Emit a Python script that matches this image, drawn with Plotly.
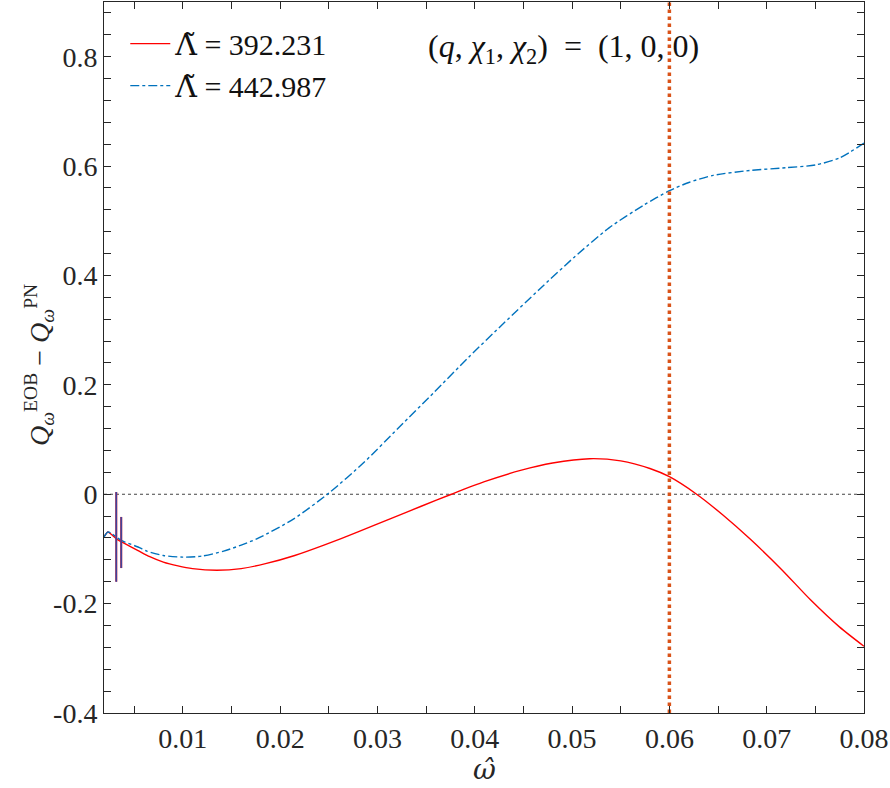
import plotly.graph_objects as go

# ---- data ----
red_x = [0.0019, 0.0023, 0.0027, 0.0033, 0.0040, 0.0054, 0.0066, 0.0080, 0.0095, 0.0110,
         0.0135, 0.0160, 0.0185, 0.0215, 0.0245, 0.0280, 0.0313, 0.0345, 0.0376, 0.0410,
         0.0448, 0.0480, 0.0518, 0.0550, 0.0580, 0.0600, 0.0628, 0.0655, 0.0683, 0.0715,
         0.0745, 0.0775, 0.0800]
red_y = [-0.078, -0.069, -0.074, -0.083, -0.090, -0.103, -0.114, -0.124, -0.131, -0.136,
         -0.139, -0.136, -0.127, -0.112, -0.093, -0.069, -0.045, -0.022, 0.000, 0.023,
         0.044, 0.057, 0.065, 0.061, 0.047, 0.032, 0.000, -0.038, -0.082, -0.137,
         -0.193, -0.243, -0.278]

blue_x = [0.0019, 0.0023, 0.0027, 0.0033, 0.0040, 0.0054, 0.0063, 0.0080, 0.0100, 0.0120,
          0.0142, 0.0160, 0.0178, 0.0214, 0.0250, 0.0286, 0.0322, 0.0358, 0.0394, 0.0430,
          0.0466, 0.0502, 0.0538, 0.0574, 0.0600, 0.0620, 0.0645, 0.0683, 0.0720, 0.0750,
          0.0775, 0.0800]
blue_y = [-0.078, -0.069, -0.072, -0.080, -0.087, -0.0965, -0.104, -0.112, -0.115, -0.113,
          -0.104, -0.093, -0.080, -0.045, 0.002, 0.058, 0.122, 0.186, 0.251, 0.313,
          0.374, 0.433, 0.487, 0.529, 0.555, 0.570, 0.583, 0.592, 0.597, 0.602,
          0.615, 0.642]

# numerical spikes at the start of both curves
spike_x = [0.00316, 0.00367]
spike_top = [0.004, -0.0415]
spike_bottom = [-0.160, -0.135]

labels = ["<span style=\"font-family:'DejaVu Serif'\">Λ\u0303</span> = 392.231",
          "<span style=\"font-family:'DejaVu Serif'\">Λ\u0303</span> = 442.987"]
omega_cut = 0.06

x_ticks = [0.01, 0.02, 0.03, 0.04, 0.05, 0.06, 0.07, 0.08]
x_ticktext = ["0.01", "0.02", "0.03", "0.04", "0.05", "0.06", "0.07", "0.08"]
y_ticks = [-0.4, -0.2, 0, 0.2, 0.4, 0.6, 0.8]
y_ticktext = ["-0.4", "-0.2", "0", "0.2", "0.4", "0.6", "0.8"]

x_range = [0.0019, 0.0800001]
y_range = [-0.4, 0.9]

RED = "#FF0000"
BLUE = "#0072BD"
ORANGE = "#D95319"
FONT = "Liberation Serif"

def spike_xy(xs, tops, bots):
    sx, sy = [], []
    for x, t, b in zip(xs, tops, bots):
        sx += [x, x, None]
        sy += [t, b, None]
    return sx, sy

sx, sy = spike_xy(spike_x, spike_top, spike_bottom)

fig = go.Figure()

# zero reference line
fig.add_trace(go.Scatter(x=x_range, y=[0, 0], mode="lines",
                         line=dict(color="#444444", width=1.2, dash="dot"),
                         showlegend=False, hoverinfo="skip"))

fig.add_trace(go.Scatter(x=red_x, y=red_y, mode="lines", name=labels[0],
                         line=dict(color=RED, width=1.4, shape="spline", smoothing=0.7)))
fig.add_trace(go.Scatter(x=blue_x, y=blue_y, mode="lines", name=labels[1],
                         line=dict(color=BLUE, width=1.4, dash="dashdot", shape="spline", smoothing=0.7)))
fig.add_trace(go.Scatter(x=sx, y=sy, mode="lines", showlegend=False,
                         line=dict(color="#c03050", width=2.2), hoverinfo="skip"))
fig.add_trace(go.Scatter(x=sx, y=sy, mode="lines", showlegend=False,
                         line=dict(color="#2848a8", width=1.2), hoverinfo="skip"))

# vertical cut line
fig.add_trace(go.Scatter(x=[omega_cut, omega_cut], y=y_range, mode="lines",
                         line=dict(color=ORANGE, width=3.5, dash="dot"),
                         showlegend=False, hoverinfo="skip"))

axis_common = dict(showline=True, linecolor="#262626", linewidth=1, mirror="ticks",
                   ticks="inside", ticklen=7, tickcolor="#262626", showgrid=False,
                   zeroline=False, ticklabeloverflow="allow",
                   tickfont=dict(family=FONT, size=28, color="#262626"))

fig.update_xaxes(range=x_range, tickvals=x_ticks, ticktext=x_ticktext,
                 minor=dict(ticks="inside", ticklen=7, dtick=0.005, tick0=0, tickcolor="#262626"),
                 **axis_common)
fig.update_yaxes(range=y_range, tickvals=y_ticks, ticktext=y_ticktext,
                 minor=dict(ticks="inside", ticklen=7, dtick=0.04, tick0=0, tickcolor="#262626"),
                 **axis_common)

fig.update_layout(
    width=890, height=788,
    margin=dict(l=104, r=24, t=1, b=75),
    plot_bgcolor="white", paper_bgcolor="white",
    font=dict(family=FONT, color="#262626"),
    legend=dict(x=0.028, y=0.978, xanchor="left", yanchor="top",
                bgcolor="rgba(255,255,255,0)", borderwidth=0,
                font=dict(family=FONT, size=30, color="#111111"),
                itemwidth=40, tracegroupgap=0),
    annotations=[
        dict(text="(<i>q</i>, <i>χ</i><sub>1</sub>, <i>χ</i><sub>2</sub>)  =  (1, 0, 0)",
             x=0.604, y=0.934, xref="paper", yref="paper", showarrow=False,
             xanchor="center", yanchor="middle",
             font=dict(family=FONT, size=32, color="#111111")),
        dict(text="<i>Q</i><sub><i>ω</i></sub><sup>EOB</sup> − <i>Q</i><sub><i>ω</i></sub><sup>PN</sup>",
             x=-0.085, y=0.49, xref="paper", yref="paper", showarrow=False, textangle=-90,
             xanchor="center", yanchor="middle",
             font=dict(family=FONT, size=28, color="#262626")),
        dict(text="<span style=\"font-family:'DejaVu Serif'\"><i>ω\u0302</i></span>",
             x=0.5, y=-0.08, xref="paper", yref="paper",
             showarrow=False, xanchor="center", yanchor="middle",
             font=dict(family=FONT, size=28, color="#262626")),
    ],
)

fig.write_html("out.html")
